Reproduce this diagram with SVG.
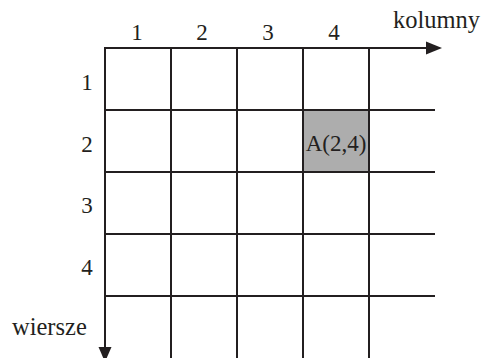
<svg xmlns="http://www.w3.org/2000/svg" width="485" height="358" viewBox="0 0 485 358">
<style>
.g{stroke:#231f20;stroke-width:2;fill:none}
.t{font-family:"Liberation Serif","Times New Roman",serif;font-size:23px;fill:#231f20}
.w{font-size:24.5px}
.m{text-anchor:middle}
.h{fill:#231f20}
</style>
<rect fill="#fff" width="485" height="358"/>
<g id="cell-A">
<rect x="303" y="110" width="66" height="62" fill="#adadad"/>
<text class="t m" x="336" y="151">A(2,4)</text>
</g>
<g id="connectors">
<line class="g" x1="105" y1="110" x2="435" y2="110"/>
<line class="g" x1="105" y1="172" x2="435" y2="172"/>
<line class="g" x1="105" y1="234" x2="435" y2="234"/>
<line class="g" x1="105" y1="296" x2="435" y2="296"/>
<line class="g" x1="171" y1="48" x2="171" y2="358"/>
<line class="g" x1="237" y1="48" x2="237" y2="358"/>
<line class="g" x1="303" y1="48" x2="303" y2="358"/>
<line class="g" x1="369" y1="48" x2="369" y2="358"/>
<line class="g" x1="104" y1="48" x2="430" y2="48"/>
<polygon class="h" points="442,48 426,41.5 426,54.5"/>
<line class="g" x1="105" y1="47" x2="105" y2="350"/>
<polygon class="h" points="105,362 98.5,347 111.5,347"/>
</g>
<g id="col-labels">
<text class="t m" x="137" y="40">1</text>
<text class="t m" x="202" y="40">2</text>
<text class="t m" x="268" y="40">3</text>
<text class="t m" x="334" y="40">4</text>
<text class="t w" x="393" y="28">kolumny</text>
</g>
<g id="row-labels">
<text class="t m" x="87" y="90">1</text>
<text class="t m" x="87" y="152">2</text>
<text class="t m" x="87" y="213">3</text>
<text class="t m" x="87" y="275">4</text>
<text class="t w" x="12" y="335">wiersze</text>
</g>
</svg>
